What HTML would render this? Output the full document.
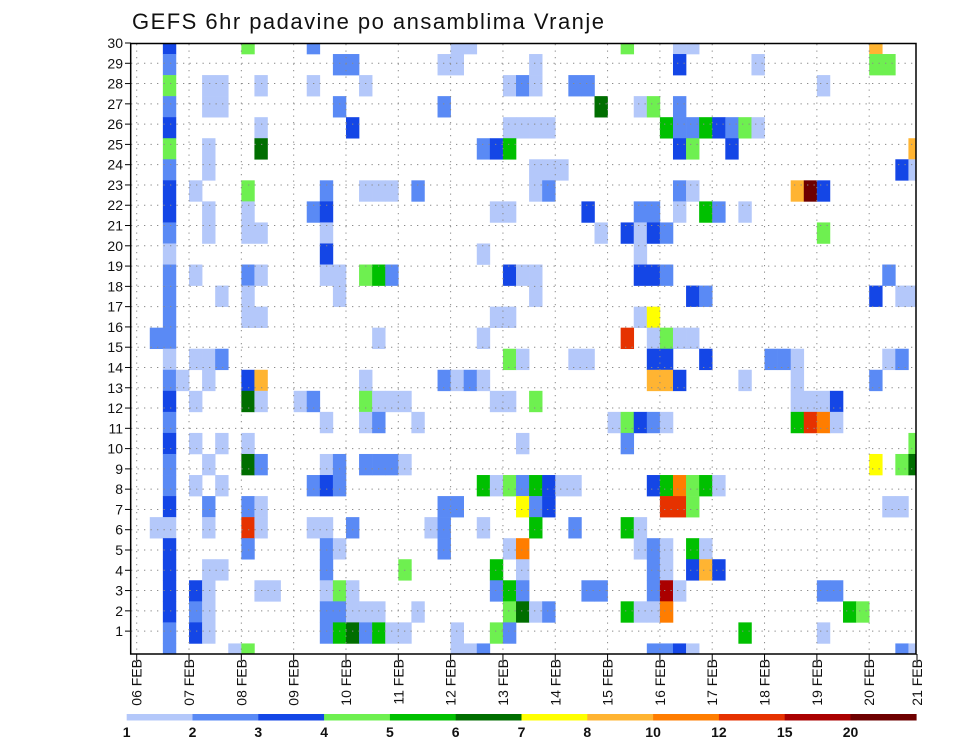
<!DOCTYPE html>
<html><head><meta charset="utf-8">
<style>
html,body{margin:0;padding:0;background:#fff;}
svg{display:block;font-family:"Liberation Sans","DejaVu Sans",sans-serif;}
</style></head>
<body>
<svg id="chart" width="960" height="742" viewBox="0 0 960 742" xmlns="http://www.w3.org/2000/svg">
<text x="132" y="29" font-size="22" textLength="472" fill="#111">GEFS 6hr padavine po ansamblima Vranje</text>
<defs><clipPath id="plotclip"><rect x="130.7" y="43.5" width="785.3" height="610.5"/></clipPath></defs>
<g id="cells" clip-path="url(#plotclip)"></g>
<g id="grid"></g>
<rect x="130.7" y="43.5" width="785.3" height="610.5" fill="none" stroke="#000" stroke-width="1.5"/>
<g id="yaxis"></g>
<g id="xaxis"></g>
<g id="colorbar"></g>
</svg>
<script>
const levels = [1,2,3,4,5,6,7,8,10,12,15,20];
const levelColors = ["#b4c8fa","#5a8af5","#1446e6","#6ef050","#00c000","#006e00","#ffff00","#ffb432","#ff7d00","#e63200","#aa0000","#6e0000"];
const dayLabels = ["06 FEB","07 FEB","08 FEB","09 FEB","10 FEB","11 FEB","12 FEB","13 FEB","14 FEB","15 FEB","16 FEB","17 FEB","18 FEB","19 FEB","20 FEB","21 FEB"];
const yTickLabels = [1,2,3,4,5,6,7,8,9,10,11,12,13,14,15,16,17,18,19,20,21,22,23,24,25,26,27,28,29,30];
const memberIds = [30,29,28,27,26,25,24,23,22,21,20,19,18,17,16,15,14,13,12,11,10,9,8,7,6,5,4,3,2,1];
const memberSteps = [
[2,8,13,24,25,37,41,42,56],
[2,15,16,23,24,30,41,47,56,57],
[2,5,6,9,13,17,28,29,30,33,34,52],
[2,5,6,15,23,35,38,39,41],
[2,9,16,28,29,30,31,40,41,42,43,44,45,46,47],
[2,5,9,26,27,28,41,42,45,59],
[2,5,30,31,32,58,59],
[2,4,8,14,17,18,19,21,30,31,41,42,50,51,52],
[2,5,8,13,14,27,28,34,38,39,41,43,44,46],
[2,5,8,9,14,35,37,38,39,40,52],
[2,14,26,38],
[2,4,8,9,14,15,17,18,19,28,29,30,38,39,40,57],
[2,6,8,15,30,42,43,56,58,59],
[2,8,9,27,28,38,39],
[1,2,18,26,37,39,40,41,42],
[2,4,5,6,28,29,33,34,39,40,43,48,49,50,57,58],
[2,3,5,8,9,17,23,24,25,26,39,40,41,46,50,56],
[2,4,8,9,12,13,17,18,19,20,27,28,30,50,51,52,53],
[2,14,17,18,21,36,37,38,39,40,50,51,52,53],
[2,4,6,8,29,37,59],
[2,5,8,9,14,15,17,18,19,20,56,58,59],
[2,4,6,13,14,15,26,27,28,29,30,31,32,33,39,40,41,42,43,44],
[2,5,8,9,23,24,29,30,31,40,41,42,57,58],
[1,2,5,8,9,13,14,16,22,23,26,30,33,37,38],
[2,8,14,15,23,28,29,38,39,40,42,43],
[2,5,6,14,20,27,29,39,40,42,43,44],
[2,4,5,9,10,14,15,16,27,28,29,34,35,39,40,41,52,53],
[2,4,5,14,15,16,17,18,21,28,29,30,31,37,38,39,40,54,55],
[2,4,5,14,15,16,17,18,19,20,24,27,28,46,52],
[2,7,8,24,25,26,39,40,41,42,58,59]
];
const memberValues = [
[3.5,4.5,2.5,1.5,1.5,4.5,1.5,1.5,9],
[2.5,2.5,2.5,1.5,1.5,1.5,3.5,1.5,4.5,4.5],
[4.5,1.5,1.5,1.5,1.5,1.5,1.5,2.5,1.5,2.5,2.5,1.5],
[2.5,1.5,1.5,2.5,2.5,6.5,1.5,4.5,2.5],
[3.5,1.5,3.5,1.5,1.5,1.5,1.5,5.5,2.5,2.5,5.5,3.5,2.5,4.5,1.5],
[4.5,1.5,6.5,2.5,3.5,5.5,3.5,4.5,3.5,9],
[2.5,1.5,1.5,1.5,1.5,3.5,1.5],
[3.5,1.5,4.5,2.5,1.5,1.5,1.5,2.5,1.5,2.5,2.5,1.5,9,25,3.5],
[3.5,1.5,1.5,2.5,3.5,1.5,1.5,3.5,2.5,2.5,1.5,5.5,2.5,1.5],
[2.5,1.5,1.5,1.5,1.5,1.5,3.5,1.5,3.5,2.5,4.5],
[1.5,3.5,1.5,1.5],
[2.5,1.5,2.5,1.5,1.5,1.5,4.5,5.5,2.5,3.5,1.5,1.5,3.5,3.5,2.5,2.5],
[2.5,1.5,1.5,1.5,1.5,3.5,2.5,3.5,1.5,1.5],
[2.5,1.5,1.5,1.5,1.5,1.5,7.5],
[2.5,2.5,1.5,1.5,13,1.5,4.5,1.5,1.5],
[1.5,1.5,1.5,2.5,4.5,1.5,1.5,1.5,3.5,3.5,3.5,2.5,2.5,1.5,1.5,2.5],
[2.5,1.5,1.5,3.5,9,1.5,2.5,1.5,2.5,1.5,9,9,3.5,1.5,1.5,2.5],
[3.5,1.5,6.5,1.5,1.5,2.5,4.5,1.5,1.5,1.5,1.5,1.5,4.5,1.5,1.5,1.5,3.5],
[2.5,1.5,1.5,2.5,1.5,1.5,4.5,3.5,2.5,1.5,5.5,13,11,1.5],
[3.5,1.5,1.5,1.5,1.5,2.5,4.5],
[2.5,1.5,6.5,2.5,1.5,2.5,2.5,2.5,2.5,1.5,7.5,4.5,6.5],
[2.5,1.5,1.5,2.5,3.5,2.5,5.5,1.5,4.5,2.5,5.5,3.5,1.5,1.5,3.5,5.5,11,4.5,5.5,1.5],
[3.5,2.5,2.5,1.5,2.5,2.5,7.5,2.5,3.5,13,13,4.5,1.5,1.5],
[1.5,1.5,1.5,13,1.5,1.5,1.5,2.5,1.5,2.5,1.5,5.5,2.5,5.5,1.5],
[3.5,2.5,2.5,1.5,2.5,1.5,11,1.5,2.5,1.5,5.5,1.5],
[3.5,1.5,1.5,2.5,4.5,5.5,1.5,2.5,1.5,3.5,9,3.5],
[3.5,3.5,1.5,1.5,1.5,1.5,4.5,1.5,2.5,5.5,2.5,2.5,2.5,2.5,17,1.5,2.5,2.5],
[3.5,2.5,1.5,2.5,2.5,1.5,1.5,1.5,1.5,4.5,6.5,1.5,2.5,5.5,1.5,1.5,11,5.5,4.5],
[2.5,3.5,1.5,2.5,5.5,6.5,2.5,5.5,1.5,1.5,1.5,4.5,2.5,5.5,1.5],
[2.5,1.5,4.5,1.5,1.5,2.5,2.5,2.5,3.5,1.5,2.5,1.5]
];

const NS = "http://www.w3.org/2000/svg";
const X0 = 136.7, STEP = 13.08, DAY = STEP * 4;
const YTOP = 43.5, CELLH = 21.05;
function xStep(k){ return X0 + k * STEP; }
function xDay(d){ return X0 + d * DAY; }
function yMember(m){ return YTOP + (30 - m) * CELLH; }
function yLabel(r){ return 43 + (30 - r) * 20.28; }
function colorFor(v){ let c = null; for (let i = 0; i < levels.length; i++) if (v >= levels[i]) c = levelColors[i]; return c; }
function mk(tag, attrs, parent){ const e = document.createElementNS(NS, tag); for (const k in attrs) e.setAttribute(k, attrs[k]); parent.appendChild(e); return e; }

const cells = document.getElementById("cells");
memberIds.forEach((m, i) => {
  memberSteps[i].forEach((k, j) => {
    const c = colorFor(memberValues[i][j]);
    if (!c) return;
    const r = mk("rect", {x: xStep(k), y: yMember(m) - CELLH / 2, width: STEP + 0.3, height: CELLH + 0.3, fill: c}, cells);
    
    
  });
});

const grid = document.getElementById("grid");
for (let r = 1; r <= 29; r++) {
  const l = mk("line", {x1: 131, x2: 915, y1: yLabel(r), y2: yLabel(r), stroke: "#8a8a8a", "stroke-width": 1, "stroke-dasharray": "1.3 5.2"}, grid);
  
  
}
for (let d = 0; d < 15; d++) {
  const l = mk("line", {x1: xDay(d), x2: xDay(d), y1: 44, y2: 653, stroke: "#8a8a8a", "stroke-width": 1, "stroke-dasharray": "1.3 5.2"}, grid);
  
  
}

const yaxis = document.getElementById("yaxis");
yTickLabels.forEach(r => {
  const y = yLabel(r);
  const t = mk("line", {x1: 125, x2: 131, y1: y, y2: y, stroke: "#000", "stroke-width": 1}, yaxis);
  
  
  const tx = mk("text", {x: 123, y: y + 5, "text-anchor": "end", "font-size": 14, fill: "#111"}, yaxis);
  tx.textContent = r;
  
  
});

const xaxis = document.getElementById("xaxis");
dayLabels.forEach((lab, d) => {
  const x = Math.min(xDay(d), 917);
  const t = mk("line", {x1: x, x2: x, y1: 654, y2: 661, stroke: "#000", "stroke-width": 1}, xaxis);
  
  
  const tx = mk("text", {transform: "translate(" + (x + 5) + ",659) rotate(-90)", "text-anchor": "end", "font-size": 14, fill: "#111"}, xaxis);
  tx.textContent = lab;
  
  
});

const cb = document.getElementById("colorbar");
const CBX = 126.7, CBW = 65.8;
levels.forEach((lv, i) => {
  const r = mk("rect", {x: CBX + i * CBW, y: 714, width: CBW + 0.3, height: 6.5, fill: levelColors[i]}, cb);
  
  
  const tx = mk("text", {x: CBX + i * CBW, y: 737, "text-anchor": "middle", "font-size": 14, "font-weight": "bold", fill: "#111"}, cb);
  tx.textContent = lv;
  
  
});
</script>
</body></html>
